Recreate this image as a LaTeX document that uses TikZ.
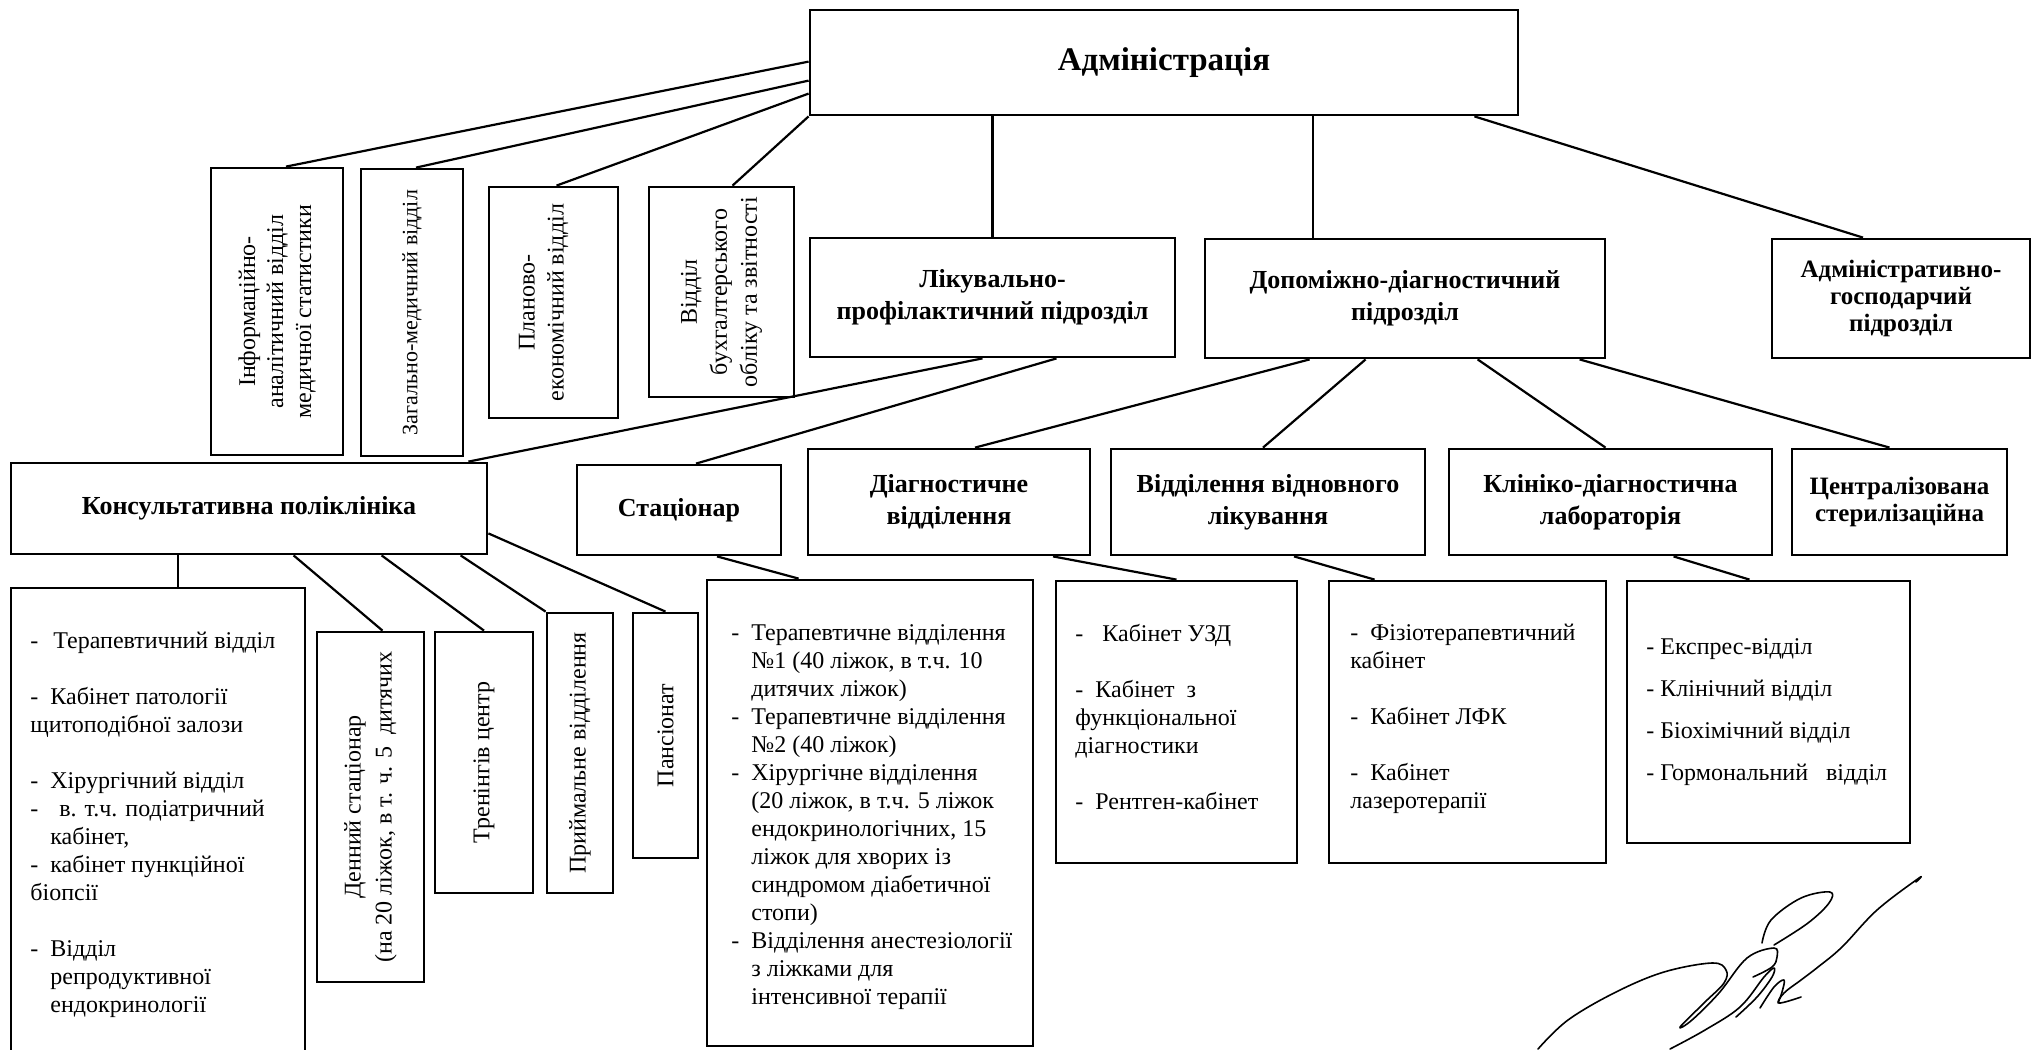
\documentclass[tikz,border=0pt]{standalone}
\usepackage{fontspec}
\setmainfont{Liberation Serif}
\usetikzlibrary{fit,calc}
\newcommand{\lidash}{\makebox[10pt][l]{-}}
\newcommand{\liind}{\hspace*{10pt}}
\begin{document}
\begin{tikzpicture}[x=0.5pt,y=-0.5pt,
  bx/.style={draw,line width=1.4pt,inner sep=0pt},
  ln/.style={draw,line width=1.1pt},
  hd/.style={font=\fontsize{13}{16}\selectfont\bfseries,align=center,inner sep=0pt},
  hds/.style={font=\fontsize{12.5}{13.5}\selectfont\bfseries,align=center,inner sep=0pt},
  vt/.style={rotate=90,align=center,inner sep=0pt,font=\fontsize{12}{14.5}\selectfont},
  lst/.style={anchor=north west,align=left,inner sep=0pt,font=\fontsize{12}{14}\selectfont},
  sig/.style={line width=0.8pt,line cap=round,line join=round}]
\useasboundingbox (0,0) rectangle (2037,1049);
\clip (0,0) rectangle (2037,1049);
\fill[white] (0,0) rectangle (2037,1049);

% level 1
\node[bx,fit={(810,10) (1518,115)}] (admin) {};
\node[font=\fontsize{16.5}{19}\selectfont\bfseries,inner sep=0pt] (admin-t) at (admin.center) {Адміністрація};

% vertical departments
\node[bx,fit={(211,168) (343,455)}] (b1) {};
\node[vt,font=\fontsize{12}{14}\selectfont] (b1-t) at (b1.center) {Інформаційно-\\аналітичний відділ\\медичної статистики};
\node[bx,fit={(361,169) (463,456)}] (b2) {};
\node[vt,font=\fontsize{11}{14}\selectfont] (b2-t) at (b2.center) {Загально-медичний відділ};
\node[bx,fit={(489,187) (618,418)}] (b3) {};
\node[vt] (b3-t) at ($(b3.center)+(-10,0)$) {Планово-\\економічний відділ};
\node[bx,fit={(649,187) (794,397)}] (b4) {};
\node[vt,font=\fontsize{12}{15}\selectfont] (b4-t) at (b4.center) {Відділ\\бухгалтерського\\обліку та звітності};

% level 2
\node[bx,fit={(810,238) (1175,357)}] (lik) {};
\node[hd] (lik-t) at (lik.center) {Лікувально-\\профілактичний підрозділ};
\node[bx,fit={(1205,239) (1605,358)}] (dop) {};
\node[hd] (dop-t) at (dop.center) {Допоміжно-діагностичний\\підрозділ};
\node[bx,fit={(1772,239) (2030,358)}] (ahg) {};
\node[hds] (ahg-t) at (ahg.center) {Адміністративно-\\господарчий\\підрозділ};

% level 3
\node[bx,fit={(11,463) (487,554)}] (kons) {};
\node[hd] (kons-t) at (kons.center) {Консультативна поліклініка};
\node[bx,fit={(577,465) (781,555)}] (stac) {};
\node[hd] (stac-t) at (stac.center) {Стаціонар};
\node[bx,fit={(808,449) (1090,555)}] (diag) {};
\node[hd] (diag-t) at (diag.center) {Діагностичне\\відділення};
\node[bx,fit={(1111,449) (1425,555)}] (vidn) {};
\node[hd] (vidn-t) at (vidn.center) {Відділення відновного\\лікування};
\node[bx,fit={(1449,449) (1772,555)}] (klin) {};
\node[hd] (klin-t) at (klin.center) {Клініко-діагностична\\лабораторія};
\node[bx,fit={(1792,449) (2007,555)}] (centr) {};
\node[hds] (centr-t) at (centr.center) {Централізована\\стерилізаційна};

% level 4 under Konsultatyvna
\node[bx,fit={(11,588) (305,1080)}] (terap) {};
\node[lst] (terap-t) at (30,632) {\makebox[11.5pt][l]{-}Терапевтичний відділ\\[14pt]
\lidash Кабінет патології\\
щитоподібної залози\\[14pt]
\lidash Хірургічний відділ\\
\makebox[14.5pt][l]{-}в. т.ч. подіатричний\\
\liind кабінет,\\
\lidash кабінет пункційної\\
біопсії\\[14pt]
\lidash Відділ\\
\liind репродуктивної\\
\liind ендокринології};

\node[bx,fit={(317,632) (424,982)}] (denn) {};
\node[vt,font=\fontsize{12}{15.5}\selectfont] (denn-t) at (denn.center) {Денний стаціонар\\(на 20 ліжок, в т. ч. 5\ \ дитячих};
\node[bx,fit={(435,632) (533,893)}] (tren) {};
\node[vt] (tren-t) at (tren.center) {Тренінгів центр};
\node[bx,fit={(547,613) (613,893)}] (prym) {};
\node[vt] (prym-t) at (prym.center) {Приймальне відділення};
\node[bx,fit={(633,613) (698,858)}] (pans) {};
\node[vt] (pans-t) at (pans.center) {Пансіонат};

% level 4 lists
\node[bx,fit={(707,580) (1033,1046)}] (stacl) {};
\node[lst] (stacl-t) at (731,624) {\lidash Терапевтичне відділення\\
\liind №1 (40 ліжок, в т.ч. 10\\
\liind дитячих ліжок)\\
\lidash Терапевтичне відділення\\
\liind №2 (40 ліжок)\\
\lidash Хірургічне відділення\\
\liind (20 ліжок, в т.ч. 5 ліжок\\
\liind ендокринологічних, 15\\
\liind ліжок для хворих із\\
\liind синдромом діабетичної\\
\liind стопи)\\
\lidash Відділення анестезіології\\
\liind з ліжками для\\
\liind інтенсивної терапії};

\node[bx,fit={(1056,581) (1297,863)}] (diagl) {};
\node[lst] (diagl-t) at (1075,624) {\makebox[13.5pt][l]{-}Кабінет УЗД\\[14pt]
\lidash Кабінет\ \ з\\
функціональної\\
діагностики\\[14pt]
\lidash Рентген-кабінет};

\node[bx,fit={(1329,581) (1606,863)}] (vidnl) {};
\node[lst] (vidnl-t) at (1350,624) {\lidash Фізіотерапевтичний\\
кабінет\\[14pt]
\lidash Кабінет ЛФК\\[14pt]
\lidash Кабінет\\
лазеротерапії};

\node[bx,fit={(1627,581) (1910,843)}] (klinl) {};
\node[lst,font=\fontsize{12}{21}\selectfont] (klinl-t) at (1646,638) {- Експрес-відділ\\
- Клінічний відділ\\
- Біохімічний відділ\\
- Гормональний\ \ \ відділ};

% connectors from administration
\draw[ln] ($(admin.north west)+(0,53)$) -- ($(b1.north)+(9,0)$);
\draw[ln] ($(admin.north west)+(0,72)$) -- ($(b2.north)+(4,0)$);
\draw[ln] ($(admin.north west)+(0,85)$) -- ($(b3.north)+(3,0)$);
\draw[ln] (admin.south west) -- ($(b4.north)+(11,0)$);
\draw[ln] (lik.north |- admin.south) -- (lik.north);
\coordinate (dtop) at ($(dop.north west)+(109,0)$);
\draw[ln] (dtop |- admin.south) -- (dtop);
\draw[ln] ($(admin.south east)+(-45,0)$) -- ($(ahg.north)+(-38,0)$);

% from Likuvalno
\draw[ln] ($(lik.south)+(-10,0)$) -- ($(kons.north east)+(-20,0)$);
\draw[ln] ($(lik.south)+(64,0)$) -- ($(stac.north)+(17,0)$);

% from Dopomizhno
\draw[ln] ($(dop.south west)+(106,0)$) -- ($(diag.north)+(26,0)$);
\draw[ln] ($(dop.south west)+(162,0)$) -- ($(vidn.north)+(-5,0)$);
\draw[ln] ($(dop.south west)+(274,0)$) -- ($(klin.north)+(-5,0)$);
\draw[ln] ($(dop.south west)+(376,0)$) -- ($(centr.north)+(-10,0)$);

% from Konsultatyvna
\coordinate (ttop) at ($(terap.north)+(20,0)$);
\draw[ln] (ttop |- kons.south) -- (ttop);
\draw[ln] ($(kons.south west)+(284,0)$) -- ($(denn.north)+(12,0)$);
\draw[ln] ($(kons.south west)+(372,0)$) -- (tren.north);
\draw[ln] ($(kons.south west)+(451,0)$) -- (prym.north west);
\draw[ln] ($(kons.south east)+(0,-22)$) -- (pans.north);

% level 3 to lists
\draw[ln] ($(stac.south)+(38,0)$) -- ($(stacl.north west)+(93,0)$);
\draw[ln] ($(diag.south)+(104,0)$) -- (diagl.north);
\draw[ln] ($(vidn.south)+(26,0)$) -- ($(vidnl.north west)+(47,0)$);
\draw[ln] ($(klin.south)+(63,0)$) -- ($(klinl.north)+(-19,0)$);

% signature
\draw[sig] plot[smooth,tension=0.6] coordinates {(1916,882) (1919,878) (1877,910) (1842,947) (1818,967) (1801,980) (1784,993) (1779,1003) (1801,997)};
\draw[sig] plot[smooth,tension=0.6] coordinates {(1538,1049) (1568,1020) (1616,992) (1664,972) (1712,963) (1726,970) (1724,983) (1705,1002) (1680,1027) (1692,1020) (1719,993) (1747,958) (1774,948) (1777,957) (1772,967) (1753,977)};
\draw[sig] plot[smooth,tension=0.6] coordinates {(1762,943) (1771,920) (1801,898) (1830,892) (1829,903) (1808,923) (1774,945)};
\draw[sig] plot[smooth,tension=0.6] coordinates {(1670,1049) (1705,1030) (1740,1007) (1764,977) (1774,968) (1772,977) (1757,997) (1736,1017)};
\draw[sig] plot[smooth,tension=0.6] coordinates {(1760,1008) (1774,987) (1784,980) (1782,992) (1778,1003)};
\end{tikzpicture}
\end{document}
